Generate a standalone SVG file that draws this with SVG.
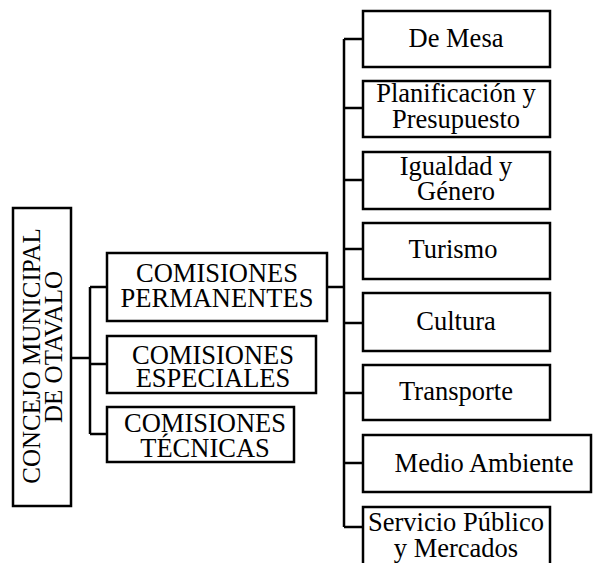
<svg xmlns="http://www.w3.org/2000/svg" width="593" height="563" viewBox="0 0 593 563">
<style>
.box{fill:#fff;stroke:#000;stroke-width:2.5}
.ln{fill:none;stroke:#000;stroke-width:2.5}
</style>
<rect width="593" height="563" fill="#fff"/>
<g id="diagram" font-family="Liberation Serif" font-size="26.5" text-anchor="middle" fill="#000">
<g id="connectors">
<path class="ln" d="M71,358H90M90,287V434M90,287H107M90,364H107M90,434H107"/>
<path class="ln" d="M327,287H344M344,39V527M344,39H363M344,108H363M344,180H363M344,249H363M344,323H363M344,393H363M344,463H363M344,527H363"/>
</g>
<g id="concejo">
<rect class="box" x="13" y="208" width="58" height="298"/>
<text font-size="25" transform="translate(40,356) rotate(-90)">CONCEJO MUNICIPAL</text>
<text font-size="25" transform="translate(62,347) rotate(-90)">DE OTAVALO</text>
</g>
<g id="permanentes">
<rect class="box" x="107" y="253" width="220" height="68"/>
<text x="217" y="282">COMISIONES</text>
<text x="217" y="307">PERMANENTES</text>
</g>
<g id="especiales">
<rect class="box" x="107" y="336" width="209" height="57"/>
<text x="213" y="364">COMISIONES</text>
<text x="213" y="387">ESPECIALES</text>
</g>
<g id="tecnicas">
<rect class="box" x="107" y="407" width="187" height="55"/>
<text x="205" y="432">COMISIONES</text>
<text x="205" y="457">TÉCNICAS</text>
</g>
<g id="demesa">
<rect class="box" x="363" y="11" width="187" height="56"/>
<text x="456" y="47">De Mesa</text>
</g>
<g id="planificacion">
<rect class="box" x="363" y="81" width="187" height="56"/>
<text x="456" y="102">Planificación y</text>
<text x="456" y="128">Presupuesto</text>
</g>
<g id="igualdad">
<rect class="box" x="363" y="152" width="187" height="57"/>
<text x="456" y="175">Igualdad y</text>
<text x="456" y="200">Género</text>
</g>
<g id="turismo">
<rect class="box" x="363" y="223" width="187" height="56"/>
<text x="453" y="258">Turismo</text>
</g>
<g id="cultura">
<rect class="box" x="363" y="293" width="187" height="58"/>
<text x="456" y="330">Cultura</text>
</g>
<g id="transporte">
<rect class="box" x="363" y="365" width="187" height="55"/>
<text x="456" y="400">Transporte</text>
</g>
<g id="medioambiente">
<rect class="box" x="363" y="435" width="228" height="57"/>
<text x="484" y="472">Medio Ambiente</text>
</g>
<g id="servicio">
<rect class="box" x="363" y="507" width="187" height="60"/>
<text x="456" y="531">Servicio Público</text>
<text x="456" y="557">y Mercados</text>
</g>
</g>
</svg>
